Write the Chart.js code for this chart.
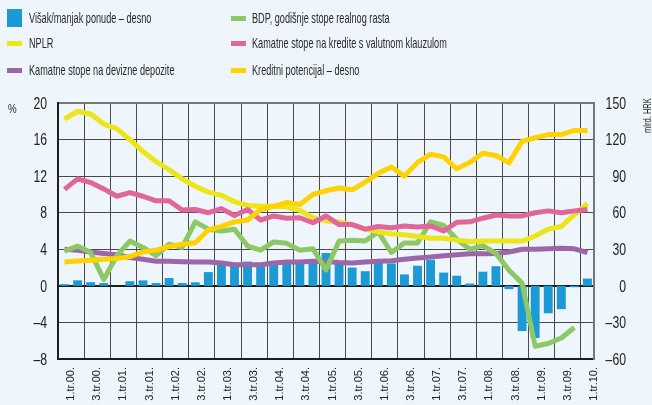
<!DOCTYPE html>
<html>
<head>
<meta charset="utf-8">
<script src="https://cdn.jsdelivr.net/npm/chart.js@4.4.1/dist/chart.umd.min.js"></script>
<style>
  html, body { margin: 0; padding: 0; background: #eef5fb; }
  #wrap { position: relative; width: 652px; height: 405px; background: #eef5fb; overflow: hidden; }
  #c { position: absolute; left: 0; top: 0; }
  .lg { position: absolute; font-family: "Liberation Sans", Arial, sans-serif; font-size: 15px; color: #2a2a2a; white-space: nowrap; transform-origin: 0 50%; transform: scaleX(0.61); line-height: 16px; }
  .mk { position: absolute; }
  .txt { position: absolute; font-family: "Liberation Sans", Arial, sans-serif; color: #2a2a2a; white-space: nowrap; line-height: 1; }
</style>
</head>
<body>
<div id="wrap">
  <canvas id="c" width="652" height="405"></canvas>
  <div id="legend"></div>
  <div class="txt" style="left:8px; top:102px; font-size:13px; transform-origin:0 0; transform: scaleX(0.75);">%</div>
  <div class="txt" style="left:642px; top:133px; font-size:10.5px; transform-origin:0 0; transform: rotate(-90deg) scaleX(0.72);">mlrd. HRK</div>
</div>
<script>
// ---- data ----
const quarters = [
  "1.tr.00.","2.tr.00.","3.tr.00.","4.tr.00.",
  "1.tr.01.","2.tr.01.","3.tr.01.","4.tr.01.",
  "1.tr.02.","2.tr.02.","3.tr.02.","4.tr.02.",
  "1.tr.03.","2.tr.03.","3.tr.03.","4.tr.03.",
  "1.tr.04.","2.tr.04.","3.tr.04.","4.tr.04.",
  "1.tr.05.","2.tr.05.","3.tr.05.","4.tr.05.",
  "1.tr.06.","2.tr.06.","3.tr.06.","4.tr.06.",
  "1.tr.07.","2.tr.07.","3.tr.07.","4.tr.07.",
  "1.tr.08.","2.tr.08.","3.tr.08.","4.tr.08.",
  "1.tr.09.","2.tr.09.","3.tr.09.","4.tr.09.",
  "1.tr.10."
];
// right axis (mlrd. HRK)
const visakManjak = [1.4,4.5,3,2.3,0,3.8,4.5,2.3,6.4,2.3,2.9,11.3,19.1,18,19.9,17.3,18.8,18.8,19.1,20.3,27,18.8,15,12,19.5,18.4,9.4,16.5,21.4,10.9,8.3,1.9,11.6,16.1,-2.7,-37.1,-42.8,-22.5,-19.1,-1.1,6];
const kreditniPotencijal = [19.5,20.3,21,21.8,22.5,24,27.8,29.3,32.3,34.1,35.3,45.8,48.8,52.5,54,62.6,65.3,68.3,66.8,75,78,80.3,78.8,85.1,92.3,97.5,90,101.3,108,105.8,96,101.3,108.8,106.9,100.9,118.5,121.5,124.1,124.1,127.5,127.5];
// left axis (%)
const bdp = [3.8,4.35,3.65,0.7,3.3,4.9,4.2,3.3,4.55,4.2,7.0,6.2,6.0,6.2,4.35,3.9,4.8,4.65,3.9,4.05,1.75,4.9,5.0,4.9,5.9,3.65,4.7,4.7,7.0,6.6,5.1,4.0,4.4,3.55,1.7,0.3,-6.6,-6.3,-5.7,-4.55,null];
const nplr = [18.25,19.1,18.8,17.7,17.2,16.0,14.7,13.6,12.7,11.7,10.9,10.25,9.9,9.2,8.8,8.7,8.7,8.65,8.25,7.45,7.1,7.0,6.7,6.2,5.9,5.7,5.6,5.4,5.2,5.2,5.0,4.85,4.9,4.9,4.9,4.9,5.45,6.2,6.5,7.8,9.0];
const kamateKrediti = [10.55,11.7,11.3,10.6,9.8,10.2,9.8,9.3,9.3,8.3,8.35,8.0,8.45,7.7,8.35,7.2,7.65,7.4,7.45,6.9,7.65,6.7,6.7,6.2,6.5,6.35,6.55,6.45,6.55,6.0,6.95,7.0,7.4,7.75,7.65,7.65,8.0,8.2,8.0,8.2,8.35];
const kamateDepoziti = [4.0,3.9,3.7,3.55,3.4,3.1,2.9,2.7,2.7,2.65,2.6,2.6,2.5,2.3,2.3,2.3,2.5,2.6,2.6,2.7,2.65,2.55,2.5,2.6,2.7,2.75,2.9,3.05,3.15,3.3,3.4,3.5,3.5,3.55,3.7,4.0,4.0,4.05,4.1,4.05,3.65];

const names = {
  visak: "Višak/manjak ponude – desno",
  bdp: "BDP, godišnje stope realnog rasta",
  nplr: "NPLR",
  krediti: "Kamatne stope na kredite s valutnom klauzulom",
  depoziti: "Kamatne stope na devizne depozite",
  potencijal: "Kreditni potencijal – desno"
};
const colors = {
  visak: "#1b9ad6", bdp: "#8dc866", nplr: "#ebe51a",
  krediti: "#df679b", depoziti: "#9c67a9", potencijal: "#ffd200"
};

// ---- legend (HTML) ----
const legendItems = [
  {k:"visak", col:0, row:0, bar:true},
  {k:"bdp", col:1, row:0},
  {k:"nplr", col:0, row:1},
  {k:"krediti", col:1, row:1},
  {k:"depoziti", col:0, row:2},
  {k:"potencijal", col:1, row:2}
];
const legendEl = document.getElementById('legend');
const rowY = [18, 43, 70], colMk = [7, 231], colTx = [29, 252];
legendItems.forEach(it => {
  const mk = document.createElement('div');
  mk.className = 'mk';
  mk.style.background = colors[it.k];
  mk.style.left = colMk[it.col] + 'px';
  mk.style.width = '15px';
  if (it.bar) { mk.style.top = (rowY[it.row]-9) + 'px'; mk.style.height='18px'; }
  else { mk.style.top = (rowY[it.row]-2) + 'px'; mk.style.height='5px'; }
  legendEl.appendChild(mk);
  const t = document.createElement('div');
  t.className = 'lg';
  t.textContent = names[it.k];
  t.style.left = colTx[it.col] + 'px';
  t.style.top = (rowY[it.row]-8) + 'px';
  legendEl.appendChild(t);
});

const dash = v => String(v).replace('-', '–');
const lineDs = (key, data, order, axis) => ({
  type: 'line', label: names[key], data, yAxisID: axis || 'y',
  borderColor: colors[key], backgroundColor: colors[key], borderWidth: 5,
  pointRadius: 0, tension: 0, borderJoinStyle: 'round', borderCapStyle: 'butt',
  order, spanGaps: false
});

// draws the y-axis tick labels (from the scales' own ticks) in a condensed face
const condensedTicks = {
  id: 'condensedTicks',
  afterDraw(chart) {
    const ctx = chart.ctx;
    ['y', 'y2'].forEach(id => {
      const s = chart.scales[id];
      const xRight = id === 'y' ? s.right - 11 : s.left + 32;
      ctx.save();
      ctx.font = '17px "Liberation Sans", Arial, sans-serif';
      ctx.fillStyle = '#222';
      ctx.textBaseline = 'middle';
      ctx.textAlign = 'right';
      s.ticks.forEach(t => {
        const y = s.getPixelForValue(t.value) + 1;
        ctx.save();
        ctx.translate(xRight, y);
        ctx.scale(0.72, 1);
        ctx.fillText(dash(t.value), 0, 0);
        ctx.restore();
      });
      ctx.restore();
    });
  }
};

new Chart(document.getElementById('c'), {
  type: 'bar',
  data: {
    labels: quarters,
    datasets: [
      lineDs('potencijal', kreditniPotencijal, 1, 'y2'),
      lineDs('krediti', kamateKrediti, 2),
      lineDs('nplr', nplr, 3),
      lineDs('bdp', bdp, 4),
      lineDs('depoziti', kamateDepoziti, 5),
      { type: 'bar', label: names.visak, data: visakManjak, yAxisID: 'y2',
        backgroundColor: colors.visak, borderWidth: 0, barPercentage: 0.68, categoryPercentage: 1, order: 10 }
    ]
  },
  plugins: [condensedTicks],
  options: {
    responsive: false, animation: false, devicePixelRatio: 1,
    layout: { padding: { top: 103, left: 0, right: 0, bottom: 0 } },
    plugins: { legend: { display: false }, tooltip: { enabled: false } },
    scales: {
      x: {
        type: 'category', offset: true,
        afterFit: s => { s.height = 46; },
        grid: {
          offset: true, drawTicks: false,
          color: ctx => (ctx.index !== undefined && ctx.index % 2 === 0 && ctx.index > 0) ? '#4a4a4a' : 'rgba(0,0,0,0)',
          lineWidth: 1
        },
        border: { display: true, color: '#1e1e1e', width: 2 },
        ticks: {
          autoSkip: false, minRotation: 90, maxRotation: 90, padding: 8, labelOffset: 6.5,
          color: '#222', font: { family: '"Liberation Sans", Arial, sans-serif', size: 11 },
          callback: (v, i) => i % 2 === 0 ? quarters[i] : ''
        }
      },
      y: {
        position: 'left', min: -8, max: 20,
        afterFit: s => { s.width = 58; },
        grid: {
          drawTicks: false,
          color: ctx => ctx.tick && ctx.tick.value === 0 ? '#1e1e1e' : (ctx.tick && ctx.tick.value === 20 ? '#777' : '#4a4a4a'),
          lineWidth: ctx => ctx.tick && (ctx.tick.value === 0 || ctx.tick.value === 20) ? 2 : 1
        },
        border: { display: true, color: '#1e1e1e', width: 2 },
        ticks: { display: false, stepSize: 4 }
      },
      y2: {
        position: 'right', min: -60, max: 150,
        afterFit: s => { s.width = 58; },
        grid: { display: false, drawTicks: false },
        border: { display: true, color: '#777', width: 2 },
        ticks: { display: false, stepSize: 30 }
      }
    }
  }
});
</script>
</body>
</html>
